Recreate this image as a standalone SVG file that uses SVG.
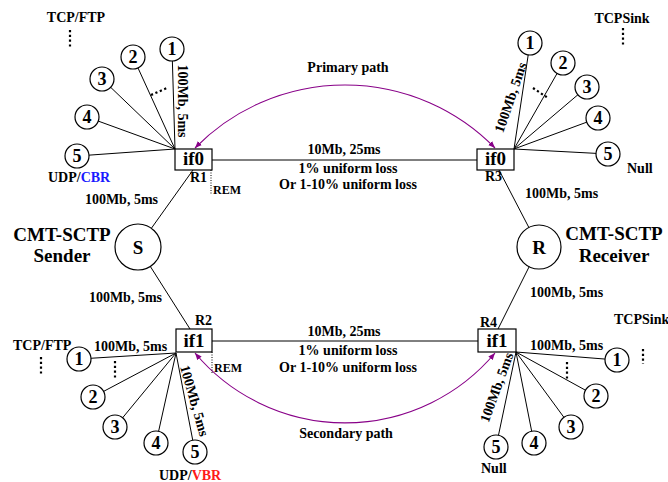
<svg xmlns="http://www.w3.org/2000/svg" width="668" height="482" viewBox="0 0 668 482">
<style>
text{font-family:"Liberation Serif","Times New Roman",serif;font-weight:bold;fill:#000}
.t14{font-size:14px}
.t12{font-size:12px}
.big{font-size:19px}
.num{font-size:18px;text-anchor:middle}
.ifl{font-size:19px;text-anchor:middle}
.mid{text-anchor:middle}
.ln{stroke:#000;stroke-width:1;fill:none}
.host{fill:#fff;stroke:#000;stroke-width:1.2}
.box{fill:#fff;stroke:#000;stroke-width:1.2}
.dots{stroke:#000;stroke-width:2.2;stroke-dasharray:2.2 2.6;fill:none}
.rem{stroke:#000;stroke-width:1;stroke-dasharray:1 1.5;fill:none}
.path{stroke:#880088;stroke-width:1.1;fill:none;marker-start:url(#ah);marker-end:url(#ah)}
</style>
<defs>
<marker id="ah" viewBox="0 0 10 10" refX="10" refY="5" markerWidth="7" markerHeight="7" markerUnits="userSpaceOnUse" orient="auto-start-reverse">
<path d="M0,1 L10,5 L0,9 Z" fill="#880088"/>
</marker>
</defs>

<g id="connectors">
<!-- R1 fan -->
<line class="ln" x1="175" y1="149" x2="172" y2="49"/>
<line class="ln" x1="175" y1="149" x2="133" y2="57"/>
<line class="ln" x1="175" y1="149" x2="102" y2="79"/>
<line class="ln" x1="175" y1="149" x2="87" y2="117"/>
<line class="ln" x1="175" y1="149" x2="77" y2="156"/>
<!-- R3 fan -->
<line class="ln" x1="514" y1="149" x2="530" y2="43"/>
<line class="ln" x1="514" y1="149" x2="563" y2="63"/>
<line class="ln" x1="514" y1="149" x2="587" y2="87"/>
<line class="ln" x1="514" y1="149" x2="598" y2="118"/>
<line class="ln" x1="514" y1="149" x2="608" y2="154"/>
<!-- R2 fan -->
<line class="ln" x1="176" y1="353" x2="79" y2="359"/>
<line class="ln" x1="176" y1="353" x2="93" y2="397"/>
<line class="ln" x1="176" y1="353" x2="115" y2="427"/>
<line class="ln" x1="176" y1="353" x2="156" y2="443"/>
<line class="ln" x1="176" y1="353" x2="195" y2="452"/>
<!-- R4 fan -->
<line class="ln" x1="516" y1="352" x2="617" y2="360"/>
<line class="ln" x1="516" y1="352" x2="596" y2="396"/>
<line class="ln" x1="516" y1="352" x2="571" y2="427"/>
<line class="ln" x1="516" y1="352" x2="534" y2="443"/>
<line class="ln" x1="516" y1="352" x2="496" y2="447"/>
<!-- bottleneck links -->
<line class="ln" x1="212" y1="160" x2="477" y2="160"/>
<line class="ln" x1="212" y1="341" x2="478" y2="341"/>
<!-- access links -->
<line class="ln" x1="193" y1="170" x2="138" y2="247"/>
<line class="ln" x1="138" y1="247" x2="190" y2="329"/>
<line class="ln" x1="499" y1="170" x2="539" y2="247"/>
<line class="ln" x1="539" y1="247" x2="498" y2="329"/>
<!-- paths -->
<path class="path" d="M195,148 A210,210 0 0 1 495,148"/>
<path class="path" d="M195,353 A196,196 0 0 0 495,353"/>
<!-- dots -->
<line class="dots" x1="70" y1="30" x2="70" y2="47"/>
<line class="dots" x1="151" y1="95" x2="167" y2="88"/>
<line class="dots" x1="623" y1="28" x2="623" y2="45"/>
<line class="dots" x1="533" y1="88" x2="548" y2="98"/>
<line class="dots" x1="41" y1="357" x2="41" y2="374"/>
<line class="dots" x1="115" y1="361" x2="115" y2="378"/>
<line class="dots" x1="643" y1="349" x2="643" y2="364"/>
<line class="dots" x1="567" y1="362" x2="567" y2="380"/>
<!-- REM markers -->
<line class="rem" x1="211" y1="170" x2="211" y2="194"/>
<line class="rem" x1="212" y1="352" x2="212" y2="373"/>
</g>

<g id="labels">
<text class="t14 mid" x="76" y="22">TCP/FTP</text>
<text class="t14 mid" x="622" y="23">TCPSink</text>
<text class="t14" x="48" y="182">UDP/<tspan style="fill:#1a1aff">CBR</tspan></text>
<text class="t14" x="627" y="173">Null</text>
<text class="t14" x="13" y="350">TCP/FTP</text>
<text class="t14" x="614" y="324">TCPSink</text>
<text class="t14" x="159" y="480">UDP/<tspan style="fill:#ff1a1a">VBR</tspan></text>
<text class="t14" x="481" y="473">Null</text>
<text class="t12" x="213" y="194">REM</text>
<text class="t12" x="214" y="372">REM</text>
<text class="t14 mid" x="348" y="72">Primary path</text>
<text class="t14 mid" x="344" y="154">10Mb, 25ms</text>
<text class="t14 mid" x="348" y="173">1% uniform loss</text>
<text class="t14 mid" x="348" y="189">Or 1-10% uniform loss</text>
<text class="t14 mid" x="344" y="336">10Mb, 25ms</text>
<text class="t14 mid" x="348" y="355">1% uniform loss</text>
<text class="t14 mid" x="348" y="372">Or 1-10% uniform loss</text>
<text class="t14 mid" x="346" y="438">Secondary path</text>
<text class="t14" text-anchor="end" x="158" y="204">100Mb, 5ms</text>
<text class="t14" text-anchor="end" x="162" y="302">100Mb, 5ms</text>
<text class="t14" x="525" y="198">100Mb, 5ms</text>
<text class="t14" x="530" y="297">100Mb, 5ms</text>
<text class="t14" x="94" y="351">100Mb, 5ms</text>
<text class="t14" x="530" y="350">100Mb, 5ms</text>
<text class="t14 mid" transform="translate(178,101) rotate(90)">100Mb, 5ms</text>
<text class="t14 mid" transform="translate(515,99) rotate(-71)">100Mb, 5ms</text>
<text class="t14 mid" transform="translate(190,402) rotate(74)">100Mb, 5ms</text>
<text class="t14 mid" transform="translate(501,389) rotate(-70)">100Mb, 5ms</text>
<text class="big mid" x="62" y="241">CMT-SCTP</text>
<text class="big mid" x="62" y="262">Sender</text>
<text class="big mid" x="614" y="240">CMT-SCTP</text>
<text class="big mid" x="614" y="262">Receiver</text>
</g>

<g id="R1"><rect class="box" x="175" y="149" width="37" height="21"/><text class="ifl" x="193.5" y="165">if0</text><text class="t14" x="190" y="182">R1</text></g>
<g id="R3"><rect class="box" x="477" y="149" width="37" height="21"/><text class="ifl" x="495.5" y="165">if0</text><text class="t14" x="485" y="181">R3</text></g>
<g id="R2"><rect class="box" x="176" y="329" width="36" height="23"/><text class="ifl" x="194" y="347">if1</text><text class="t14" x="195" y="325">R2</text></g>
<g id="R4"><rect class="box" x="478" y="329" width="38" height="23"/><text class="ifl" x="497" y="347">if1</text><text class="t14" x="480" y="327">R4</text></g>

<g id="S"><circle class="host" cx="138" cy="247" r="23"/><text class="ifl" x="138" y="254">S</text></g>
<g id="R"><circle class="host" cx="539" cy="247" r="22"/><text class="ifl" x="539" y="254">R</text></g>

<g id="src-tl-1"><circle class="host" cx="172" cy="49" r="12"/><text class="num" x="172" y="55">1</text></g>
<g id="src-tl-2"><circle class="host" cx="133" cy="57" r="12"/><text class="num" x="133" y="63">2</text></g>
<g id="src-tl-3"><circle class="host" cx="102" cy="79" r="12"/><text class="num" x="102" y="85">3</text></g>
<g id="src-tl-4"><circle class="host" cx="87" cy="117" r="12"/><text class="num" x="87" y="123">4</text></g>
<g id="src-tl-5"><circle class="host" cx="77" cy="156" r="12"/><text class="num" x="77" y="162">5</text></g>

<g id="snk-tr-1"><circle class="host" cx="530" cy="43" r="12"/><text class="num" x="530" y="49">1</text></g>
<g id="snk-tr-2"><circle class="host" cx="563" cy="63" r="12"/><text class="num" x="563" y="69">2</text></g>
<g id="snk-tr-3"><circle class="host" cx="587" cy="87" r="12"/><text class="num" x="587" y="93">3</text></g>
<g id="snk-tr-4"><circle class="host" cx="598" cy="118" r="12"/><text class="num" x="598" y="124">4</text></g>
<g id="snk-tr-5"><circle class="host" cx="608" cy="154" r="12"/><text class="num" x="608" y="160">5</text></g>

<g id="src-bl-1"><circle class="host" cx="79" cy="359" r="12"/><text class="num" x="79" y="365">1</text></g>
<g id="src-bl-2"><circle class="host" cx="93" cy="397" r="12"/><text class="num" x="93" y="403">2</text></g>
<g id="src-bl-3"><circle class="host" cx="115" cy="427" r="12"/><text class="num" x="115" y="433">3</text></g>
<g id="src-bl-4"><circle class="host" cx="156" cy="443" r="12"/><text class="num" x="156" y="449">4</text></g>
<g id="src-bl-5"><circle class="host" cx="195" cy="452" r="12"/><text class="num" x="195" y="458">5</text></g>

<g id="snk-br-1"><circle class="host" cx="617" cy="360" r="12"/><text class="num" x="617" y="366">1</text></g>
<g id="snk-br-2"><circle class="host" cx="596" cy="396" r="12"/><text class="num" x="596" y="402">2</text></g>
<g id="snk-br-3"><circle class="host" cx="571" cy="427" r="12"/><text class="num" x="571" y="433">3</text></g>
<g id="snk-br-4"><circle class="host" cx="534" cy="443" r="12"/><text class="num" x="534" y="449">4</text></g>
<g id="snk-br-5"><circle class="host" cx="496" cy="447" r="12"/><text class="num" x="496" y="453">5</text></g>
</svg>
